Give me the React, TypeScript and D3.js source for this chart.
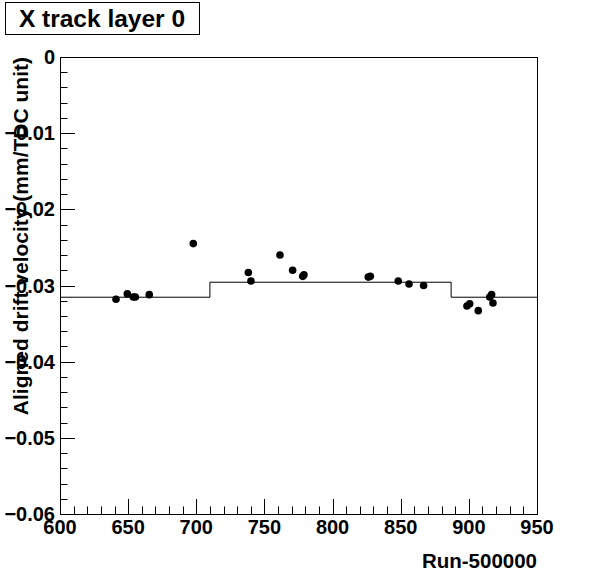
import React from 'react';
import * as d3 from 'd3';

// run number (minus 500000) and aligned drift velocity
const runs = [641.1, 649.4, 653.8, 655.3, 665.5, 697.8, 738.2, 740.1, 761.4, 770.7, 778.1, 779.0,
  826.2, 827.7, 848.2, 856.1, 866.8, 898.6, 900.6, 906.9, 915.3, 916.7, 917.7];
const velocities = [-0.0318, -0.0311, -0.0315, -0.0315, -0.0312, -0.0245, -0.0283, -0.0294, -0.0260,
  -0.0280, -0.0288, -0.0286, -0.0289, -0.0288, -0.0294, -0.0298, -0.0300, -0.0327, -0.0324,
  -0.0333, -0.0315, -0.0312, -0.0323];

// step (average per period)
const stepEdges = [600, 710, 887, 950];
const stepValues = [-0.03154, -0.02957, -0.03154];

const xTicks = [600, 650, 700, 750, 800, 850, 900, 950];
const yTicks = [0, -0.01, -0.02, -0.03, -0.04, -0.05, -0.06];

const W = 596;
const H = 572;
const font = '"Liberation Sans", Arial, Helvetica, sans-serif';

export default function App() {
  const x = d3.scaleLinear().domain([600, 950]).range([60, 537]);
  const y = d3.scaleLinear().domain([0, -0.06]).range([57, 514]);

  const [x0, x1] = x.range();
  const [y0, y1] = y.range();

  // minor ticks: 5 divisions per major
  const xMinor = d3.range(600, 950.001, 10);
  const yMinor = d3.range(0, 31).map(i => -i * 0.002);

  const stepPts: [number, number][] = [];
  stepValues.forEach((v, i) => {
    stepPts.push([x(stepEdges[i]), y(v)]);
    stepPts.push([x(stepEdges[i + 1]), y(v)]);
  });
  const stepPath = d3.line()(stepPts) || '';

  return (
    <svg width={W} height={H} style={{ position: 'absolute', left: 0, top: 0, background: '#fff' }}
      fontFamily={font} fontWeight="bold">
      <rect x={0} y={0} width={W} height={H} fill="#fff" />

      {/* frame */}
      <rect x={x0 + 0.5} y={y0 + 0.5} width={x1 - x0} height={y1 - y0} fill="none" stroke="#000" strokeWidth={1} />

      {/* x ticks */}
      {xMinor.map((t, i) => {
        const major = Math.abs(t % 50) < 1e-6;
        return (
          <line key={'xt' + i} x1={Math.round(x(t)) + 0.5} x2={Math.round(x(t)) + 0.5}
            y1={y1} y2={y1 - (major ? 15 : 7.5)} stroke="#000" strokeWidth={1} />
        );
      })}
      {xTicks.map(t => (
        <text key={'xl' + t} x={x(t)} y={534} textAnchor="middle" fontSize={20}>{t}</text>
      ))}

      {/* y ticks */}
      {yMinor.map((t, i) => {
        const major = i % 5 === 0;
        return (
          <line key={'yt' + i} x1={x0} x2={x0 + (major ? 15 : 7.5)}
            y1={Math.round(y(t)) + 0.5} y2={Math.round(y(t)) + 0.5} stroke="#000" strokeWidth={1} />
        );
      })}
      {yTicks.map(t => (
        <text key={'yl' + t} x={55} y={y(t) + 7} textAnchor="end" fontSize={20}>
          {t === 0 ? '0' : d3.format('.2f')(t)}
        </text>
      ))}

      {/* axis titles */}
      <text x={x1} y={568} textAnchor="end" fontSize={20.5}>Run-500000</text>
      <text transform={`translate(28,${y0}) rotate(-90)`} textAnchor="end" fontSize={21}>
        Aligned drift velocity (mm/TDC unit)
      </text>

      {/* step line */}
      <path d={stepPath} fill="none" stroke="#000" strokeWidth={1} />

      {/* points */}
      {runs.map((r, i) => (
        <circle key={'p' + i} cx={x(r)} cy={y(velocities[i])} r={3.8} fill="#000" />
      ))}

      {/* title box */}
      <rect x={5.5} y={2.5} width={194} height={32} fill="#fff" stroke="#000" strokeWidth={1} />
      <text x={102} y={26.5} textAnchor="middle" fontSize={24.5}>X track layer 0</text>
    </svg>
  );
}
